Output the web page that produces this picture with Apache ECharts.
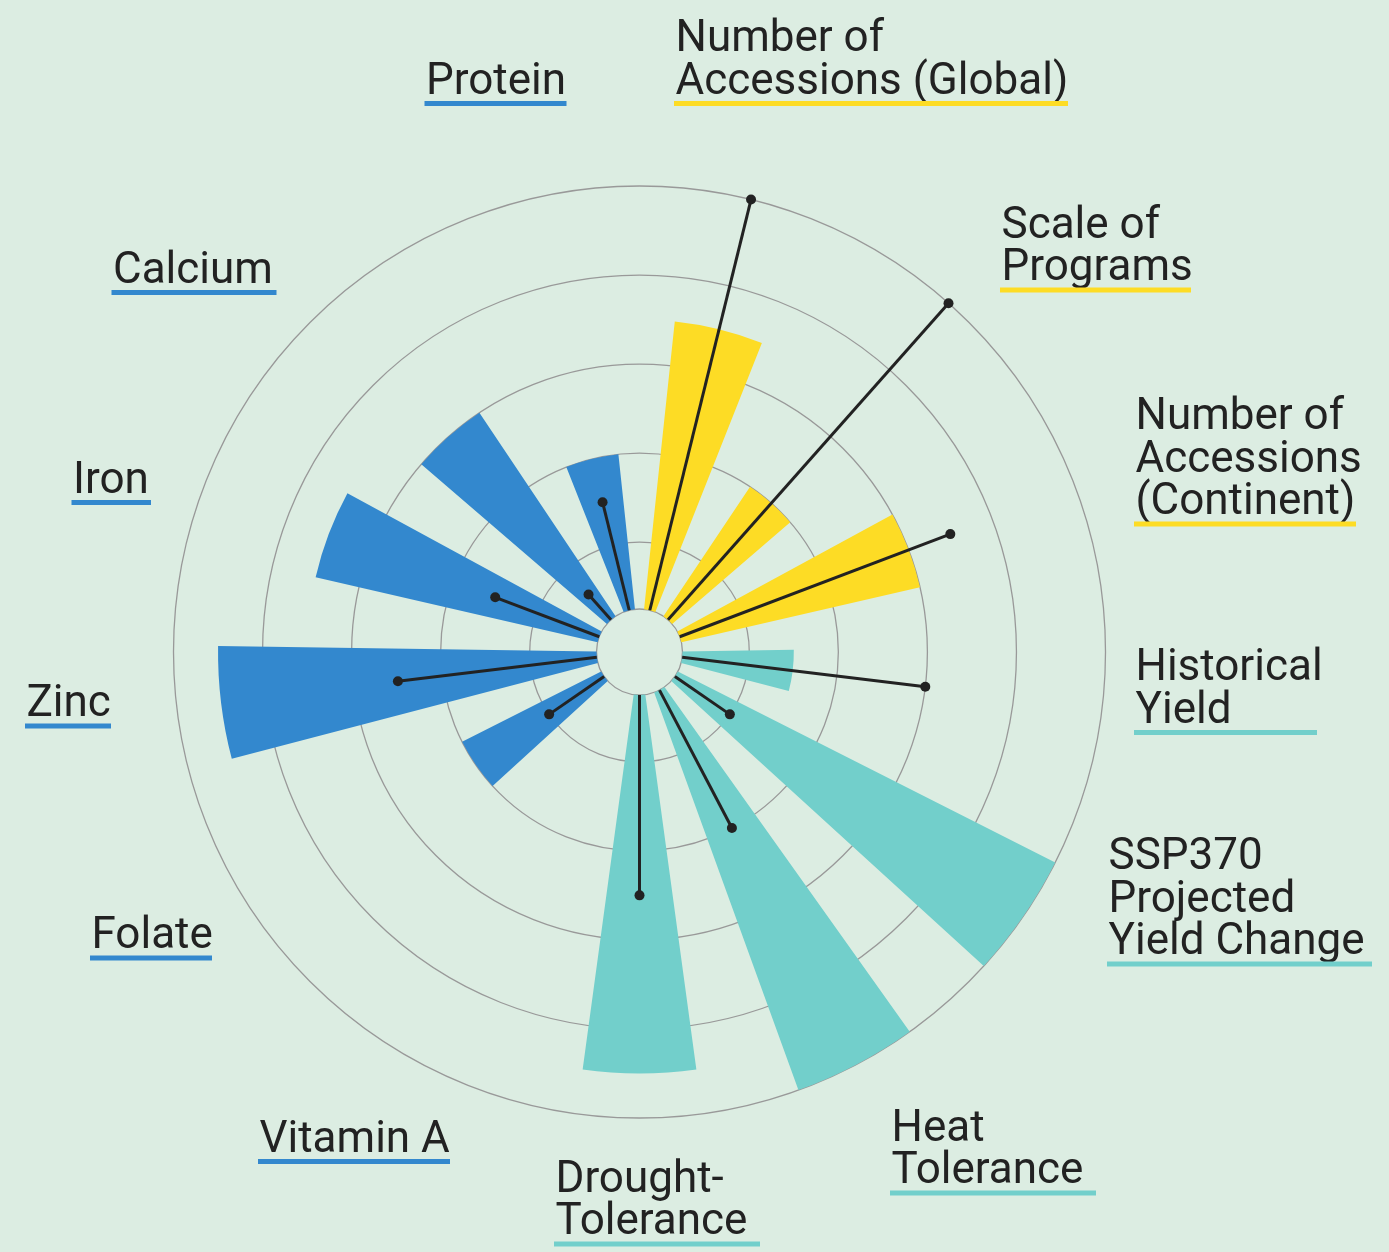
<!DOCTYPE html>
<html>
<head>
<meta charset="UTF-8">
<title>Polar bar chart</title>
<script src="https://cdn.jsdelivr.net/npm/echarts@6/dist/echarts.min.js"></script>
</head>
<body style="margin:0;background-color:#dcede2">
<div id="main" style="width:1389px;height:1252px"></div>
<script>
// categories, clockwise from the top
var categories = [
  'Number of\nAccessions (Global)',
  'Scale of\nPrograms',
  'Number of\nAccessions\n(Continent)',
  'Historical\nYield',
  'SSP370\nProjected\nYield Change',
  'Heat\nTolerance',
  'Drought-\nTolerance',
  'Vitamin A',
  'Folate',
  'Zinc',
  'Iron',
  'Calcium',
  'Protein'
];
var groups = ['genebank', 'genebank', 'genebank', 'yield', 'yield', 'yield', 'yield',
  'nutrition', 'nutrition', 'nutrition', 'nutrition', 'nutrition', 'nutrition'];
var barValues = [3.5, 2, 3, 1.5, 5, 5, 4.5, null, 2, 4.5, 3.5, 3, 2];
var pointValues = [5, 5, 3.5, 3, 1, 2, 2.5, null, 1, 2.5, 1.5, 0.63, 1.5];
var radiusMin = 0.25;
var radiusMax = 5;

var groupColors = { genebank: '#fddc25', yield: '#72cfcb', nutrition: '#3388ce' };

// label placement: underline left, underline right, underline top
var labelLayout = [
  [674, 1068, 101],
  [1000, 1191, 287.5],
  [1134, 1356, 521.5],
  [1134, 1317, 730],
  [1107, 1372, 961.5],
  [890, 1096, 1190.5],
  [554, 760, 1241.5],
  [258, 450, 1159],
  [90, 212, 955.5],
  [25, 111, 723.5],
  [71.5, 151, 500],
  [111.5, 276.5, 290],
  [424.5, 566.5, 101]
];

var myChart = echarts.init(document.getElementById('main'));

var graphics = [];
categories.forEach(function (name, i) {
  var l = labelLayout[i];
  graphics.push({
    type: 'text',
    x: l[0] + 1.5,
    y: l[2] + 3,
    style: {
      text: name,
      font: '44px Roboto',
      fill: '#222222',
      lineHeight: 42.5,
      verticalAlign: 'bottom',
      align: 'left'
    }
  });
  graphics.push({
    type: 'rect',
    shape: { x: l[0], y: l[2], width: l[1] - l[0], height: 5 },
    style: { fill: groupColors[groups[i]] }
  });
});

var barData = barValues.map(function (v, i) {
  return { value: v, itemStyle: { color: groupColors[groups[i]] } };
});
var pointData = [];
pointValues.forEach(function (v, i) {
  if (v != null) pointData.push([v, i]);
});

option = {
  backgroundColor: '#dcede2',
  animation: false,
  polar: {
    center: [639.5, 652],
    radius: [43, 466]
  },
  angleAxis: {
    type: 'category',
    data: categories,
    startAngle: 90,
    clockwise: true,
    axisLine: { show: false },
    axisTick: { show: false },
    axisLabel: { show: false },
    splitLine: { show: false }
  },
  radiusAxis: {
    type: 'value',
    min: radiusMin,
    max: radiusMax,
    splitNumber: 5,
    axisLine: { show: false },
    axisTick: { show: false },
    axisLabel: { show: false },
    splitLine: { show: true, lineStyle: { color: '#999999', width: 1.3 } }
  },
  series: [
    {
      type: 'bar',
      coordinateSystem: 'polar',
      data: barData,
      barWidth: '56%',
      z: 2
    },
    {
      type: 'custom',
      coordinateSystem: 'polar',
      data: pointData,
      z: 3,
      renderItem: function (params, api) {
        var idx = api.value(1);
        var p0 = api.coord([radiusMin, idx]);
        var p1 = api.coord([api.value(0), idx]);
        return {
          type: 'group',
          children: [
            { type: 'line', shape: { x1: p0[0], y1: p0[1], x2: p1[0], y2: p1[1] },
              style: { stroke: '#222222', lineWidth: 3 } },
            { type: 'circle', shape: { cx: p1[0], cy: p1[1], r: 5 },
              style: { fill: '#222222' } }
          ]
        };
      }
    }
  ],
  graphic: graphics
};

myChart.setOption(option);
</script>
</body>
</html>
